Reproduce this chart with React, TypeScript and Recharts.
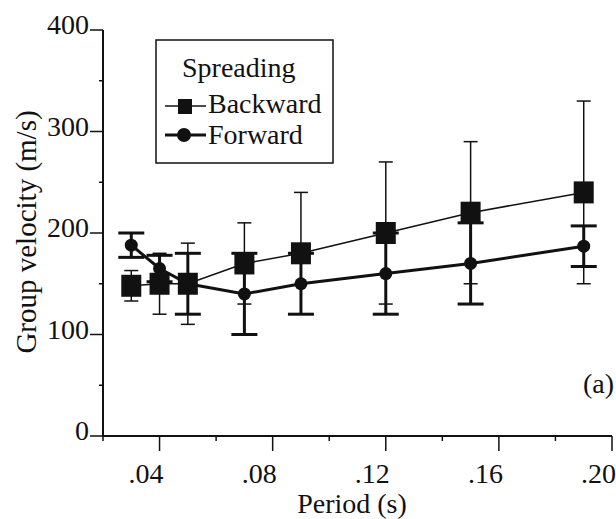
import { ComposedChart, Line, XAxis, YAxis, ErrorBar } from "recharts";

// period (s) and group velocity (m/s)
const PERIOD = [0.03, 0.04, 0.05, 0.07, 0.09, 0.12, 0.15, 0.19];
const BACKWARD = [148, 150, 150, 170, 180, 200, 220, 240];
const BACKWARD_ERR = [15, 30, 40, 40, 60, 70, 70, 90];
const FORWARD = [188, 165, 150, 140, 150, 160, 170, 187];
const FORWARD_ERR = [12, 13, 30, 40, 30, 40, 40, 20];

const X_TICKS = [0.02, 0.04, 0.06, 0.08, 0.1, 0.12, 0.14, 0.16, 0.18, 0.2];
const Y_TICKS = [0, 50, 100, 150, 200, 250, 300, 350, 400];

const FONT = "Liberation Serif";
const INK = "#111";
const TXT = { fontFamily: FONT, fontSize: 28 };

const data = PERIOD.map((p, i) => ({
  period: p,
  backward: BACKWARD[i],
  backwardErr: BACKWARD_ERR[i],
  forward: FORWARD[i],
  forwardErr: FORWARD_ERR[i],
}));

const fmtPeriod = (v: number) => v.toFixed(2).replace(/^0/, "");

// eslint-disable-next-line @typescript-eslint/no-explicit-any
const XTick = ({ x, y, payload }: any) => {
  const v = payload.value as number;
  const major = Math.round(v * 100) % 4 === 0;
  return (
    <g>
      <line x1={x} y1={y} x2={x} y2={y + (major ? 15 : 5)} stroke={INK} strokeWidth={1.5} />
      {major && (
        <text x={x + 4} y={y + 47} textAnchor="end" style={TXT} fill={INK}>
          {fmtPeriod(v)}
        </text>
      )}
    </g>
  );
};

// eslint-disable-next-line @typescript-eslint/no-explicit-any
const YTick = ({ x, y, payload }: any) => {
  const v = payload.value as number;
  const major = v % 100 === 0;
  return (
    <g>
      <line x1={x} y1={y} x2={x - (major ? 13 : 4)} y2={y} stroke={INK} strokeWidth={1.5} />
      {major && (
        <text x={x - 14} y={y + 4} textAnchor="end" style={TXT} fill={INK}>
          {v}
        </text>
      )}
    </g>
  );
};

// eslint-disable-next-line @typescript-eslint/no-explicit-any
const SquareDot = ({ cx, cy, index }: any) => (
  <rect key={`sq-${index}`} x={cx - 10} y={cy - 11} width={20} height={22} fill={INK} />
);

// eslint-disable-next-line @typescript-eslint/no-explicit-any
const RoundDot = ({ cx, cy, index }: any) => (
  <circle key={`ci-${index}`} cx={cx} cy={cy} r={6.5} fill={INK} />
);

export default function App() {
  return (
    <div style={{ width: 616, height: 519, position: "relative", fontFamily: FONT, background: "#fff" }}>
      {/* drop the default body margin so the chart sits at the window's corner */}
      <style>{"html,body{margin:0;padding:0;overflow:hidden}"}</style>
      <ComposedChart width={616} height={519} data={data} margin={{ top: 30, right: 4, bottom: 0, left: 0 }}>
        <XAxis
          dataKey="period"
          type="number"
          domain={[0.02, 0.2]}
          ticks={X_TICKS}
          height={83}
          tickSize={0}
          tickMargin={0}
          tick={<XTick />}
          axisLine={{ stroke: INK, strokeWidth: 2 }}
          interval={0}
        />
        <YAxis
          type="number"
          domain={[0, 400]}
          ticks={Y_TICKS}
          width={103}
          tickSize={0}
          tickMargin={0}
          tick={<YTick />}
          axisLine={{ stroke: INK, strokeWidth: 2 }}
          interval={0}
        />
        <Line
          dataKey="forward"
          stroke={INK}
          strokeWidth={3}
          dot={RoundDot}
          activeDot={false}
          isAnimationActive={false}
        >
          <ErrorBar dataKey="forwardErr" direction="y" width={13} stroke={INK} strokeWidth={3} />
        </Line>
        <Line
          dataKey="backward"
          stroke={INK}
          strokeWidth={1.5}
          dot={SquareDot}
          activeDot={false}
          isAnimationActive={false}
        >
          <ErrorBar dataKey="backwardErr" direction="y" width={7} stroke={INK} strokeWidth={1.5} />
        </Line>
      </ComposedChart>

      {/* titles, legend box and panel tag */}
      <svg width={616} height={519} style={{ position: "absolute", left: 0, top: 0, pointerEvents: "none" }}>
        <text
          transform="translate(36, 232) rotate(-90)"
          textAnchor="middle"
          style={{ ...TXT, fontSize: 29 }}
          fill={INK}
        >
          Group velocity (m/s)
        </text>
        <text x={352} y={513} textAnchor="middle" style={TXT} fill={INK}>
          Period (s)
        </text>
        <text x={614} y={393} textAnchor="end" style={TXT} fill={INK}>
          (a)
        </text>

        <rect x={156} y={40} width={177} height={123} fill="#fff" stroke={INK} strokeWidth={1.5} />
        <text x={182} y={77} style={TXT} fill={INK}>
          Spreading
        </text>
        <line x1={165} y1={106} x2={206} y2={106} stroke={INK} strokeWidth={1.5} />
        <rect x={178} y={99} width={14} height={15} fill={INK} />
        <text x={208} y={113} style={TXT} fill={INK}>
          Backward
        </text>
        <line x1={165} y1={135} x2={206} y2={135} stroke={INK} strokeWidth={3} />
        <circle cx={184} cy={135} r={7} fill={INK} />
        <text x={208} y={144} style={TXT} fill={INK}>
          Forward
        </text>
      </svg>
    </div>
  );
}
